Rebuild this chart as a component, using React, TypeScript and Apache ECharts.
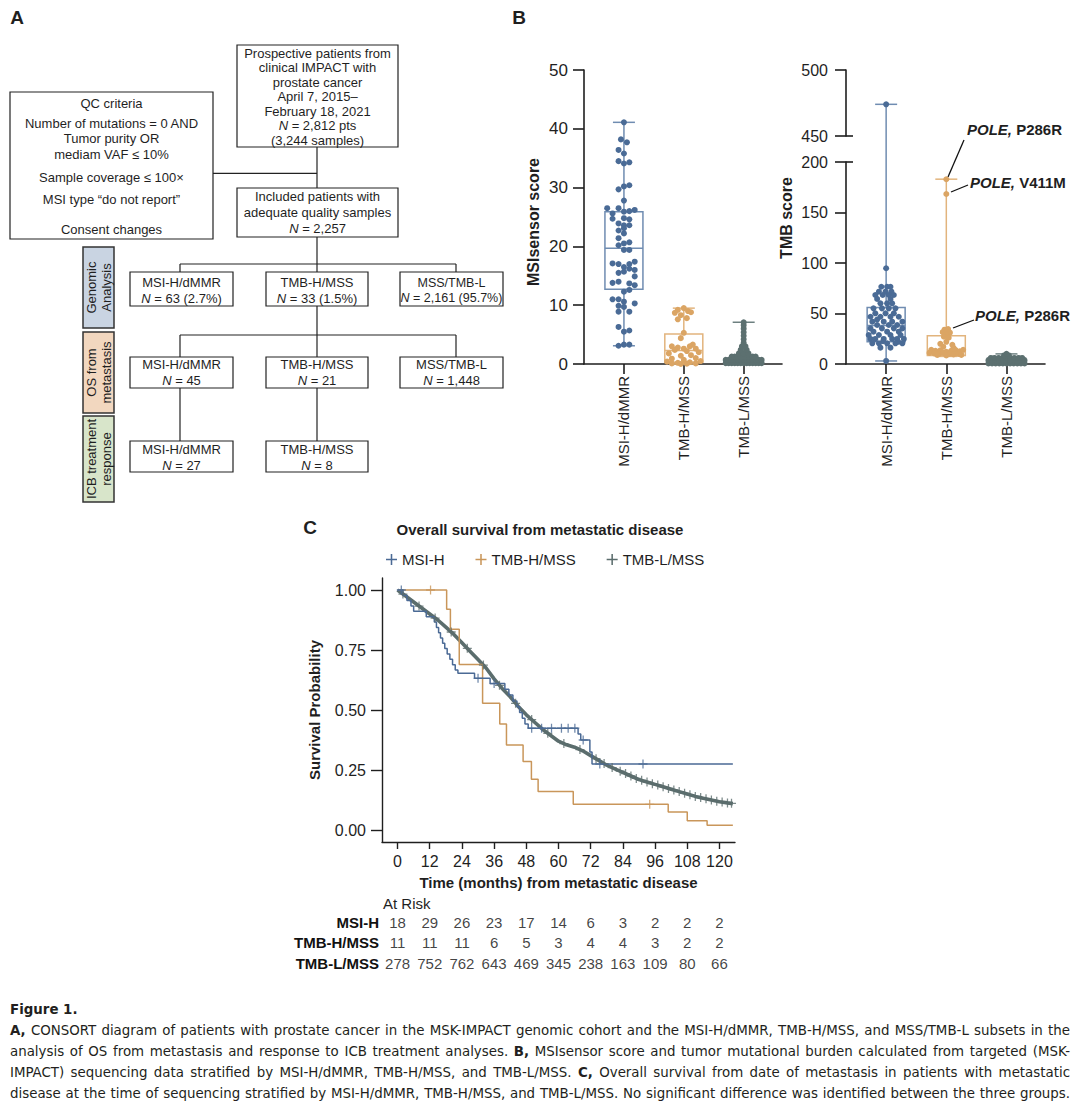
import React, { useEffect, useRef } from 'react';
import * as echarts from 'echarts';

const FONT = "'Liberation Sans', Arial, Helvetica, sans-serif";
const CAP_FONT = "'Liberation Sans Narrow', 'DejaVu Sans Condensed', 'Liberation Sans', sans-serif";
const INK = '#1f1f1f';
const PLUS = 'path://M4.3,0H5.7V4.3H10V5.7H5.7V10H4.3V5.7H0V4.3H4.3Z';

// ---------------- Panel A (CONSORT diagram) ----------------
const flowBoxes = [
  { x: 237, y: 45, w: 161, h: 102, cy: 96.7, lh: 14.5, fs: 13, text: 'Prospective patients from\nclinical IMPACT with\nprostate cancer\nApril 7, 2015–\nFebruary 18, 2021\n{i|N} = 2,812 pts\n(3,244 samples)' },
  { x: 237, y: 188, w: 161, h: 49, cy: 212.4, lh: 16.3, fs: 13, text: 'Included patients with\nadequate quality samples\n{i|N} = 2,257' },
  { x: 130, y: 272, w: 103, h: 34, cy: 290.5, lh: 15.7, fs: 13, text: 'MSI-H/dMMR\n{i|N} = 63 (2.7%)' },
  { x: 266, y: 272, w: 102, h: 34, cy: 290.5, lh: 15.7, fs: 13, text: 'TMB-H/MSS\n{i|N} = 33 (1.5%)' },
  { x: 400, y: 272, w: 103, h: 34, cy: 290.5, lh: 15.7, fs: 12.5, text: 'MSS/TMB-L\n{i|N} = 2,161 (95.7%)' },
  { x: 130, y: 357, w: 103, h: 31, cy: 372.8, lh: 15.7, fs: 13, text: 'MSI-H/dMMR\n{i|N} = 45' },
  { x: 266, y: 357, w: 102, h: 31, cy: 372.8, lh: 15.7, fs: 13, text: 'TMB-H/MSS\n{i|N} = 21' },
  { x: 400, y: 357, w: 103, h: 31, cy: 372.8, lh: 15.7, fs: 13, text: 'MSS/TMB-L\n{i|N} = 1,448' },
  { x: 130, y: 441, w: 103, h: 31, cy: 457.3, lh: 16, fs: 13, text: 'MSI-H/dMMR\n{i|N} = 27' },
  { x: 266, y: 441, w: 102, h: 31, cy: 457.3, lh: 16, fs: 13, text: 'TMB-H/MSS\n{i|N} = 8' },
];
const qcBox = { x: 10, y: 92, w: 203, h: 147 };
const qcLines: [string, number][] = [
  ['QC criteria', 103], ['Number of mutations = 0 AND', 123], ['Tumor purity OR', 138.5],
  ['mediam VAF ≤ 10%', 154], ['Sample coverage ≤ 100×', 177], ['MSI type “do not report”', 199], ['Consent changes', 229],
];
const flowLinks = [
  [317, 147, 317, 188], [213, 173.3, 317, 173.3], [317, 237, 317, 272],
  [180, 264, 456, 264], [180, 264, 180, 272], [456, 264, 456, 272],
  [317, 306, 317, 357], [180, 335, 456, 335], [180, 335, 180, 357], [456, 335, 456, 357],
  [180, 388, 180, 441], [317, 388, 317, 441],
];
const sideBands = [
  { y: 247, h: 81, fill: '#c9d4e2', text: 'Genomic\nAnalysis' },
  { y: 332, h: 81, fill: '#f2d7bf', text: 'OS from\nmetastasis' },
  { y: 416, h: 86, fill: '#d8e5ca', text: 'ICB treatment\nresponse' },
];

// ---------------- Panel B ----------------
const groupNames = ['MSI-H/dMMR', 'TMB-H/MSS', 'TMB-L/MSS'];
const dotColors = ['#4a6b96', '#dba564', '#5c7070'];
const boxColors = ['#6f8cb1', '#e2b47d', '#6d8080'];

// [group, min, Q1, median, Q3, max]
const msiSensorBox = [
  [0, 3.1, 12.7, 19.7, 25.9, 41.1],
  [1, 0.0, 0.3, 2.3, 5.1, 9.5],
  [2, 0.0, 0.1, 0.3, 0.7, 7.1],
];
const tmbBox = [
  [0, 3, 22, 38, 56, 474],
  [1, 7.5, 8.5, 13, 28, 183],
  [2, 0, 1, 3, 6, 10],
];

// points: [jitter offset, value]
const msiSensorMSIH = [
  [0, 41.1], [-0.05, 38.2], [0.05, 37.7], [-0.09, 36.4], [0, 35.8], [-0.09, 34.5], [0, 34.1], [0.09, 34.3],
  [-0.09, 29.7], [0, 30.2], [0.09, 30.4], [0, 27.8],
  [-0.28, 26.5], [-0.09, 26.5], [0.18, 26.2], [0.09, 26.0], [0, 25.9], [-0.19, 25.6],
  [-0.19, 24.7], [0, 24.8], [0.09, 24.6], [-0.09, 23.9], [0, 23.6], [0.09, 23.6], [0, 23.1], [-0.09, 22.7], [0, 22.2],
  [-0.09, 21.4], [0.09, 20.7], [0, 20.5], [-0.09, 20.2], [0, 19.4], [0.09, 19.4],
  [0.18, 17.4], [-0.19, 17.1], [-0.09, 17.0], [0.09, 17.0], [0, 16.5], [0.09, 16.2], [0.18, 16.0], [0, 15.7], [-0.09, 15.5], [0.18, 14.9],
  [-0.09, 14.0], [-0.19, 13.8], [0.09, 13.7], [0.18, 13.4], [0.09, 12.6], [0, 12.3],
  [-0.19, 11.0], [-0.09, 11.0], [0, 10.6], [0.18, 10.3], [-0.09, 9.9], [0, 9.7], [-0.09, 8.9], [0.09, 8.9],
  [-0.09, 6.3], [0, 5.5], [0.09, 5.7], [-0.09, 3.1], [0, 3.3], [0.09, 3.3],
];
const msiSensorTMBH = [
  [0, 9.5], [-0.1, 9.2], [0.07, 9.0], [-0.15, 8.7], [0.12, 8.8], [-0.05, 8.3], [0.05, 7.8], [-0.1, 7.6],
  [0, 5.3], [-0.05, 4.4], [0.15, 3.3], [-0.2, 3.0], [0.1, 3.0], [-0.1, 2.8], [0.2, 2.6], [0, 2.6],
  [-0.15, 2.4], [0.05, 2.2], [0.25, 2.0], [-0.25, 1.8], [0.12, 1.5], [-0.05, 1.4], [0.2, 1.0], [-0.2, 0.9],
  [0, 0.7], [0.28, 0.5], [-0.28, 0.4], [0.1, 0.3], [-0.1, 0.2], [0.2, 0.1], [-0.2, 0.1], [0.05, 0.05], [-0.05, 0.0],
];
const msiSensorTMBL = [
  [-0.3, 0.15], [-0.25, 0.15], [-0.2, 0.15], [-0.15, 0.15], [-0.1, 0.15], [-0.05, 0.15], [0, 0.15], [0.05, 0.15], [0.1, 0.15], [0.15, 0.15], [0.2, 0.15], [0.25, 0.15], [0.3, 0.15],
  [-0.3, 0.7], [-0.25, 0.7], [-0.2, 0.7], [-0.15, 0.7], [-0.1, 0.7], [-0.05, 0.7], [0, 0.7], [0.05, 0.7], [0.1, 0.7], [0.15, 0.7], [0.2, 0.7], [0.25, 0.7], [0.3, 0.7],
  [-0.2, 1.25], [-0.15, 1.25], [-0.1, 1.25], [-0.05, 1.25], [0, 1.25], [0.05, 1.25], [0.1, 1.25], [0.15, 1.25], [0.2, 1.25],
  [-0.08, 1.8], [0, 1.8], [0.08, 1.8], [-0.05, 2.4], [0.05, 2.4], [-0.03, 3.0], [0.03, 3.0],
  [0, 3.6], [0, 4.2], [0, 4.8], [0, 5.4], [0, 6.0], [0, 6.6], [0, 7.1],
];
const tmbMSIH = [
  [0, 474], [0, 94.8],
  [-0.08, 76.5], [0.016, 76.5], [0.072, 76.5],
  [-0.12, 71.6], [-0.01, 71.6], [0.088, 71.6],
  [-0.18, 68.3], [-0.056, 68.3], [0.044, 68.3], [0.128, 68.3],
  [-0.15, 64.4], [0.072, 64.4],
  [-0.095, 60.1], [0.016, 60.1], [0.1, 60.1],
  [-0.21, 55.1], [-0.07, 55.1], [0.044, 55.1], [0.155, 55.1],
  [-0.18, 50.2], [-0.01, 50.2], [0.128, 50.2],
  [-0.26, 46.8], [-0.095, 46.8], [0.072, 46.8], [0.21, 46.8],
  [-0.15, 44], [-0.23, 41.9], [-0.04, 41.9], [0.1, 41.9], [0.27, 41.9],
  [-0.15, 38.6], [0.044, 38.6], [0.183, 38.6],
  [-0.26, 35.3], [-0.07, 35.3], [0.128, 35.3], [0.27, 35.3],
  [-0.21, 32.0], [0.016, 32.0], [0.21, 32.0],
  [-0.29, 28.7], [-0.12, 28.7], [0.072, 28.7], [0.24, 28.7],
  [-0.26, 24.8], [-0.18, 24.8], [-0.04, 24.8], [0.1, 24.8], [0.183, 24.8], [0.294, 24.8],
  [-0.05, 22.5], [0.2, 22],
  [-0.23, 20.5], [-0.12, 20.5], [0.016, 20.5], [0.155, 20.5], [0.27, 20.5],
  [-0.095, 16.2], [0.072, 16.2], [0, 3],
];
const tmbTMBH = [
  [0, 182.9], [0, 168.3], [-0.03, 34], [0.03, 34.5], [-0.06, 31.5], [0, 31.5], [0.06, 31], [0, 29],
  [-0.04, 27], [0.04, 26], [0, 22], [-0.1, 20], [0.1, 19], [-0.05, 17], [0.12, 16],
  [-0.25, 14], [-0.18, 13], [-0.1, 13.5], [0, 12], [0.08, 13], [0.15, 14], [0.22, 12.5], [0.28, 14],
  [-0.28, 11], [-0.2, 10.5], [-0.12, 10], [-0.05, 11], [0.05, 10], [0.12, 9.5], [0.2, 10], [-0.15, 9], [0.25, 9], [0, 8.5],
];
const tmbTMBL = [
  [-0.3, 0.5], [-0.24, 0.5], [-0.18, 0.5], [-0.12, 0.5], [-0.06, 0.5], [0, 0.5], [0.06, 0.5], [0.12, 0.5], [0.18, 0.5], [0.24, 0.5], [0.3, 0.5],
  [-0.3, 3.5], [-0.24, 3.5], [-0.18, 3.5], [-0.12, 3.5], [-0.06, 3.5], [0, 3.5], [0.06, 3.5], [0.12, 3.5], [0.18, 3.5], [0.24, 3.5], [0.3, 3.5],
  [-0.26, 6], [-0.2, 6], [-0.13, 6], [-0.06, 6], [0, 6], [0.06, 6], [0.13, 6], [0.2, 6], [0.26, 6],
  [-0.04, 8.5], [0.04, 8.5], [0, 10],
];
const poleNotes = [
  { text: '{i|POLE,} P286R', x: 967, y: 129, line: [964, 140, 948, 177] },
  { text: '{i|POLE,} V411M', x: 970, y: 182, line: [968, 185, 951, 192] },
  { text: '{i|POLE,} P286R', x: 975, y: 315, line: [974, 320, 953, 328] },
];

// ---------------- Panel C ----------------
const kmNames = ['MSI-H', 'TMB-H/MSS', 'TMB-L/MSS'];
const kmColors = ['#4b6a95', '#c9965a', '#5b6d6d'];
const kmMSI = [[0, 1], [2, 0.978], [3.5, 0.956], [5, 0.933], [6, 0.911], [10.7, 0.889], [13.7, 0.867], [14.5, 0.844], [15.3, 0.822], [16, 0.8], [16.8, 0.778], [17.6, 0.756], [18.5, 0.733], [19.5, 0.711], [20.5, 0.689], [21.5, 0.667], [22.5, 0.653], [28.7, 0.632], [34.5, 0.61], [40, 0.586], [41.5, 0.562], [43, 0.538], [44.5, 0.514], [45.5, 0.49], [46.5, 0.466], [47.5, 0.442], [48.7, 0.424], [67.3, 0.4], [68.3, 0.375], [71.7, 0.325], [72.5, 0.275], [125, 0.275]];
const kmTMBH = [[0, 1], [18.3, 0.92], [19.7, 0.836], [23, 0.69], [31.7, 0.528], [38.1, 0.442], [40.6, 0.354], [46.8, 0.285], [49.9, 0.211], [52.4, 0.16], [65.5, 0.107], [100.9, 0.075], [108, 0.039], [115.4, 0.02], [125, 0.02]];
const kmTMBL = [[0, 1], [3, 0.975], [6, 0.95], [9, 0.925], [12, 0.9], [15, 0.875], [18, 0.845], [21, 0.815], [24, 0.78], [27, 0.745], [30, 0.71], [33, 0.675], [36, 0.63], [39, 0.59], [42, 0.555], [45, 0.515], [48, 0.48], [51, 0.45], [54, 0.42], [57, 0.395], [60, 0.37], [63, 0.355], [66, 0.345], [69, 0.33], [72, 0.31], [75, 0.29], [78, 0.27], [81, 0.255], [84, 0.24], [87, 0.225], [90, 0.21], [93, 0.2], [96, 0.19], [99, 0.18], [102, 0.17], [105, 0.16], [108, 0.15], [111, 0.14], [114, 0.132], [117, 0.125], [120, 0.118], [123, 0.113], [125, 0.11]];
const censorMSI = [[1.4, 1], [30, 0.632], [36, 0.61], [50, 0.424], [53.7, 0.424], [57.4, 0.424], [61.1, 0.424], [63.6, 0.424], [66.1, 0.424], [69.2, 0.375], [75.4, 0.275], [91.5, 0.275]];
const censorTMBH = [[12.3, 1], [94, 0.107]];
const censorTMBL = [[2, 0.983], [8, 0.933], [14, 0.883], [20, 0.825], [26, 0.757], [32, 0.687], [38, 0.603], [44, 0.528], [50, 0.46], [56, 0.403], [62, 0.36], [68, 0.335], [74, 0.297], [77, 0.277], [80, 0.26], [83, 0.245], [85, 0.235], [87, 0.225], [89, 0.215], [91, 0.207], [93, 0.2], [95, 0.193], [97, 0.187], [99, 0.18], [101, 0.173], [103, 0.167], [105, 0.16], [107, 0.153], [109, 0.147], [111, 0.14], [113, 0.135], [115, 0.13], [117, 0.125], [119, 0.12], [121, 0.117], [123, 0.113], [124.5, 0.111]];
const kmTicks = [0, 12, 24, 36, 48, 60, 72, 84, 96, 108, 120];
const kmYTicks = [0, 0.25, 0.5, 0.75, 1];
const riskRows = ['MSI-H', 'TMB-H/MSS', 'TMB-L/MSS'];
const riskMSI = [18, 29, 26, 23, 17, 14, 6, 3, 2, 2, 2];
const riskTMBH = [11, 11, 11, 6, 5, 3, 4, 4, 3, 2, 2];
const riskTMBL = [278, 752, 762, 643, 469, 345, 238, 163, 109, 80, 66];

// ---------------- Caption ----------------
const captionTitle = 'Figure 1.';
const captionLines = [
  'A, CONSORT diagram of patients with prostate cancer in the MSK-IMPACT genomic cohort and the MSI-H/dMMR, TMB-H/MSS, and MSS/TMB-L subsets in the',
  'analysis of OS from metastasis and response to ICB treatment analyses. B, MSIsensor score and tumor mutational burden calculated from targeted (MSK-',
  'IMPACT) sequencing data stratified by MSI-H/dMMR, TMB-H/MSS, and TMB-L/MSS. C, Overall survival from date of metastasis in patients with metastatic',
  'disease at the time of sequencing stratified by MSI-H/dMMR, TMB-H/MSS, and TMB-L/MSS. No significant difference was identified between the three groups.',
];
const captionBold = ['A,', 'B,', 'C,'];

// ---------------- layout constants ----------------
const BX_MIN = -0.667;
const BX_MAX = 2.64;
const G_MSI = { left: 584, top: 70, width: 198, height: 294 };
const G_UP = { left: 846, top: 70, width: 199, height: 66 };
const G_LOW = { left: 846, top: 162, width: 199, height: 202 };
const G_KM = { left: 382, top: 578, width: 353, height: 264 };
const G_RISK = { left: 382, top: 912, width: 353, height: 61.5 };
const BREAK_GAP = G_LOW.top - (G_UP.top + G_UP.height);

function txt(text: string, x: number, y: number, extra: any = {}, rot = 0): any {
  return {
    type: 'text', x, y, rotation: rot, silent: true,
    style: {
      text, fill: INK, fontFamily: FONT, fontSize: 13,
      align: 'center', textAlign: 'center', verticalAlign: 'middle', textVerticalAlign: 'middle',
      ...extra,
    },
  };
}
function ln(x1: number, y1: number, x2: number, y2: number, stroke = '#222', w = 1.2): any {
  return { type: 'line', silent: true, shape: { x1, y1, x2, y2 }, style: { stroke, lineWidth: w } };
}

function renderBox(params: any, api: any) {
  const g = api.value(0);
  const cs = params.coordSys;
  const c = (v: number) => api.coord([g, v]);
  const cx = c(api.value(1))[0];
  const yMin = c(api.value(1))[1];
  const yQ1 = c(api.value(2))[1];
  const yMed = c(api.value(3))[1];
  const yQ3 = c(api.value(4))[1];
  let yMax = c(api.value(5))[1];
  let cap = true;
  if (yMax < cs.y) { yMax = cs.y - BREAK_GAP; cap = false; }
  const color = boxColors[g];
  const ls = { stroke: color, lineWidth: 1.5 };
  const hw = 19, cw = 11;
  const ch: any[] = [
    { type: 'line', shape: { x1: cx, y1: yMin, x2: cx, y2: yQ1 }, style: ls },
    { type: 'line', shape: { x1: cx, y1: yQ3, x2: cx, y2: yMax }, style: ls },
    { type: 'line', shape: { x1: cx - cw, y1: yMin, x2: cx + cw, y2: yMin }, style: ls },
    { type: 'rect', shape: { x: cx - hw, y: yQ3, width: 2 * hw, height: yQ1 - yQ3 }, style: { fill: 'none', stroke: color, lineWidth: 1.5 } },
    { type: 'line', shape: { x1: cx - hw, y1: yMed, x2: cx + hw, y2: yMed }, style: ls },
  ];
  if (cap) ch.push({ type: 'line', shape: { x1: cx - cw, y1: yMax, x2: cx + cw, y2: yMax }, style: ls });
  return { type: 'group', children: ch };
}
function renderUpper(params: any, api: any) {
  const g = api.value(0);
  const cs = params.coordSys;
  const [cx, yTop] = api.coord([g, api.value(5)]);
  const color = boxColors[g];
  const ls = { stroke: color, lineWidth: 1.5 };
  return {
    type: 'group', children: [
      { type: 'line', shape: { x1: cx, y1: yTop, x2: cx, y2: cs.y + cs.height }, style: ls },
      { type: 'line', shape: { x1: cx - 11, y1: yTop, x2: cx + 11, y2: yTop }, style: ls },
    ],
  };
}

function dots(points: number[][], g: number, xi: number, yi: number, size = 6): any {
  return {
    type: 'scatter', xAxisIndex: xi, yAxisIndex: yi, clip: false, z: 4, silent: true,
    symbolSize: size, itemStyle: { color: dotColors[g], opacity: 1 },
    data: points.map(([d, v]) => [g + d, v]),
  };
}

function bAxisX(gi: number, show = true): any {
  return {
    gridIndex: gi, type: 'value', min: BX_MIN, max: BX_MAX, show,
    axisLine: { show: true, onZero: false, lineStyle: { color: INK, width: 1.6 } },
    axisTick: { show: true, customValues: [0, 1, 2], length: 10, lineStyle: { color: INK, width: 1.6 } },
    axisLabel: { customValues: [0, 1, 2], rotate: 90, formatter: (v: number) => groupNames[Math.round(v)], fontSize: 15, color: INK, margin: 12, fontFamily: FONT },
    splitLine: { show: false },
  };
}
function bAxisY(gi: number, min: number, max: number, interval: number, fs: number, margin: number): any {
  return {
    gridIndex: gi, type: 'value', min, max, interval,
    axisLine: { show: true, onZero: false, lineStyle: { color: INK, width: 1.6 } },
    axisTick: { show: true, length: 11, lineStyle: { color: INK, width: 1.6 } },
    axisLabel: { fontSize: fs, color: INK, margin, fontFamily: FONT },
    splitLine: { show: false },
  };
}

function captionGraphics(): any[] {
  const out: any[] = [];
  const ctx = document.createElement('canvas').getContext('2d') as CanvasRenderingContext2D;
  const x0 = 10, W = 1060, ys = [1030, 1051, 1072, 1093];
  const fontOf = (b: boolean, s: number) => `${b ? 'bold ' : ''}${s}px ${CAP_FONT}`;
  const base = 15;
  ctx.font = fontOf(false, base);
  const sp = ctx.measureText(' ').width;
  let maxNat = 0;
  captionLines.forEach((l) => {
    let s = 0;
    l.split(' ').forEach((w) => { ctx.font = fontOf(captionBold.includes(w), base); s += ctx.measureText(w).width; });
    s += sp * (l.split(' ').length - 1);
    maxNat = Math.max(maxNat, s);
  });
  const size = Math.min(base, (base * W * 0.99) / maxNat);
  out.push({ type: 'text', x: x0, y: 1009, silent: true, style: { text: captionTitle, fill: '#231f20', fontFamily: CAP_FONT, fontWeight: 'bold', fontSize: size, align: 'left', textAlign: 'left', verticalAlign: 'middle', textVerticalAlign: 'middle' } });
  captionLines.forEach((l, li) => {
    const words = l.split(' ');
    const ws = words.map((w) => { ctx.font = fontOf(captionBold.includes(w), size); return ctx.measureText(w).width; });
    const tot = ws.reduce((a, b) => a + b, 0);
    const gap = (W - tot) / (words.length - 1);
    let x = x0;
    words.forEach((w, i) => {
      out.push({ type: 'text', x, y: ys[li], silent: true, style: { text: w, fill: '#231f20', fontFamily: CAP_FONT, fontWeight: captionBold.includes(w) ? 'bold' : 'normal', fontSize: size, align: 'left', textAlign: 'left', verticalAlign: 'middle', textVerticalAlign: 'middle' } });
      x += ws[i] + gap;
    });
  });
  return out;
}

function buildOption(): any {
  const graphics: any[] = [];
  // panel letters
  graphics.push(txt('A', 17, 17, { fontSize: 19, fontWeight: 'bold' }));
  graphics.push(txt('B', 519, 17, { fontSize: 19, fontWeight: 'bold' }));
  graphics.push(txt('C', 310, 527, { fontSize: 19, fontWeight: 'bold' }));

  // flowchart
  flowLinks.forEach(([a, b, c, d]) => graphics.push(ln(a, b, c, d)));
  graphics.push({ type: 'rect', silent: true, shape: { x: qcBox.x, y: qcBox.y, width: qcBox.w, height: qcBox.h }, style: { fill: '#fff', stroke: '#222', lineWidth: 1.2 } });
  qcLines.forEach(([t, y]) => graphics.push(txt(t, qcBox.x + qcBox.w / 2, y)));
  flowBoxes.forEach((b) => {
    graphics.push({ type: 'rect', silent: true, shape: { x: b.x, y: b.y, width: b.w, height: b.h }, style: { fill: '#fff', stroke: '#222', lineWidth: 1.2 } });
    graphics.push(txt(b.text, b.x + b.w / 2, b.cy, {
      fontSize: b.fs, lineHeight: b.lh,
      rich: { i: { fontStyle: 'italic', fontSize: b.fs, fontFamily: FONT, lineHeight: b.lh, fill: INK } },
    }));
  });
  sideBands.forEach((s) => {
    graphics.push({ type: 'rect', silent: true, shape: { x: 83, y: s.y, width: 31, height: s.h }, style: { fill: s.fill, stroke: '#333', lineWidth: 1.5 } });
    graphics.push(txt(s.text, 98.5, s.y + s.h / 2, { fontSize: 13, lineHeight: 15 }, Math.PI / 2));
  });

  // panel B extras
  graphics.push(txt('MSIsensor score', 533, 222, { fontSize: 16, fontWeight: 'bold' }, Math.PI / 2));
  graphics.push(txt('TMB score', 786, 218, { fontSize: 16, fontWeight: 'bold' }, Math.PI / 2));
  graphics.push(ln(G_UP.left, G_UP.top + G_UP.height, G_UP.left + 7, G_UP.top + G_UP.height, INK, 1.6));
  graphics.push(ln(G_LOW.left, G_LOW.top, G_LOW.left + 7, G_LOW.top, INK, 1.6));
  poleNotes.forEach((n) => {
    graphics.push(ln(n.line[0], n.line[1], n.line[2], n.line[3], '#111', 1.3));
    graphics.push(txt(n.text, n.x, n.y, {
      fontSize: 15, fontWeight: 'bold', align: 'left', textAlign: 'left',
      rich: { i: { fontStyle: 'italic', fontWeight: 'bold', fontSize: 15, fontFamily: FONT, fill: INK } },
    }));
  });

  // panel C extras
  graphics.push(txt('At Risk', 383, 903, { fontSize: 15, align: 'left', textAlign: 'left' }));

  captionGraphics().forEach((g) => graphics.push(g));

  const series: any[] = [];
  // Panel B - MSIsensor
  series.push({ type: 'custom', xAxisIndex: 0, yAxisIndex: 0, renderItem: renderBox, data: msiSensorBox, z: 2, silent: true });
  series.push(dots(msiSensorMSIH, 0, 0, 0, 6));
  series.push(dots(msiSensorTMBH, 1, 0, 0, 6));
  series.push(dots(msiSensorTMBL, 2, 0, 0, 6));
  // Panel B - TMB (broken axis)
  series.push({ type: 'custom', xAxisIndex: 2, yAxisIndex: 2, renderItem: renderBox, data: tmbBox, z: 2, silent: true });
  series.push({ type: 'custom', xAxisIndex: 1, yAxisIndex: 1, renderItem: renderUpper, data: tmbBox.filter((b) => b[5] >= 450), z: 2, silent: true });
  const lowPts = (p: number[][]) => p.filter(([, v]) => v < 450);
  const upPts = (p: number[][]) => p.filter(([, v]) => v >= 450);
  series.push(dots(upPts(tmbMSIH), 0, 1, 1, 6));
  series.push(dots(lowPts(tmbMSIH), 0, 2, 2, 6));
  series.push(dots(tmbTMBH, 1, 2, 2, 6));
  series.push(dots(tmbTMBL, 2, 2, 2, 6));

  // Panel C - KM
  const kmData = [kmMSI, kmTMBH, kmTMBL];
  const censors = [censorMSI, censorTMBH, censorTMBL];
  [2, 1, 0].forEach((i) => {
    series.push({
      type: 'line', name: kmNames[i], xAxisIndex: 3, yAxisIndex: 3, data: kmData[i],
      step: i === 2 ? false : 'end', symbol: 'none', showSymbol: false, silent: true,
      color: kmColors[i], lineStyle: { color: kmColors[i], width: i === 2 ? 3.6 : 1.5 }, z: 3 + (2 - i),
    });
    series.push({
      type: 'scatter', name: kmNames[i] + ' censored', xAxisIndex: 3, yAxisIndex: 3, data: censors[i],
      symbol: PLUS, symbolSize: 9, itemStyle: { color: kmColors[i] }, z: 6, silent: true, clip: false,
    });
  });
  // at risk table
  const riskAll = [riskMSI, riskTMBH, riskTMBL];
  const riskData: any[] = [];
  riskAll.forEach((arr, r) => arr.forEach((n, k) => riskData.push([kmTicks[k], r, n])));
  series.push({
    type: 'scatter', xAxisIndex: 4, yAxisIndex: 4, data: riskData, symbolSize: 1, silent: true,
    itemStyle: { color: 'rgba(0,0,0,0)' },
    label: { show: true, position: 'inside', formatter: (p: any) => String(p.value[2]), fontSize: 15, color: '#111', fontFamily: FONT },
  });

  return {
    animation: false,
    backgroundColor: '#ffffff',
    textStyle: { fontFamily: FONT },
    title: { text: 'Overall survival from metastatic disease', left: 'center', top: 517, textStyle: { fontSize: 15, fontWeight: 'bold', color: INK, fontFamily: FONT } },
    legend: {
      data: kmNames.map((n) => ({ name: n, icon: PLUS })),
      left: 381, top: 547, itemWidth: 11, itemHeight: 11, itemGap: 31, selectedMode: false,
      textStyle: { fontSize: 15, color: INK, fontFamily: FONT },
    },
    grid: [G_MSI, G_UP, G_LOW, G_KM, G_RISK].map((g) => ({ ...g, containLabel: false })),
    xAxis: [
      bAxisX(0),
      { gridIndex: 1, type: 'value', min: BX_MIN, max: BX_MAX, show: false },
      bAxisX(2),
      {
        gridIndex: 3, type: 'value', min: -5.8, max: 125.8,
        name: 'Time (months) from metastatic disease', nameLocation: 'middle', nameGap: 33,
        nameTextStyle: { fontSize: 15, fontWeight: 'bold', color: INK, fontFamily: FONT },
        axisLine: { show: true, onZero: false, lineStyle: { color: INK, width: 1.4 } },
        axisTick: { show: true, customValues: kmTicks, length: 7, lineStyle: { color: INK, width: 1.4 } },
        axisLabel: { customValues: kmTicks, fontSize: 16, color: INK, margin: 11, fontFamily: FONT },
        splitLine: { show: false },
      },
      { gridIndex: 4, type: 'value', min: -5.8, max: 125.8, show: false },
    ],
    yAxis: [
      bAxisY(0, 0, 50, 10, 17, 16),
      bAxisY(1, 450, 500, 50, 16, 18),
      bAxisY(2, 0, 200, 50, 16, 18),
      {
        gridIndex: 3, type: 'value', min: -0.05, max: 1.05,
        name: 'Survival Probability', nameLocation: 'middle', nameGap: 60, nameRotate: 90,
        nameTextStyle: { fontSize: 15, fontWeight: 'bold', color: INK, fontFamily: FONT },
        axisLine: { show: true, onZero: false, lineStyle: { color: INK, width: 1.4 } },
        axisTick: { show: true, customValues: kmYTicks, length: 11, lineStyle: { color: INK, width: 1.4 } },
        axisLabel: { customValues: kmYTicks, formatter: (v: number) => v.toFixed(2), fontSize: 16, color: INK, margin: 16, fontFamily: FONT },
        splitLine: { show: false },
      },
      {
        gridIndex: 4, type: 'category', data: riskRows, inverse: true,
        axisLine: { show: false }, axisTick: { show: false },
        axisLabel: { fontSize: 15, fontWeight: 'bold', color: '#111', margin: 3, fontFamily: FONT },
      },
    ],
    series,
    graphic: { elements: graphics },
  };
}

export default function App() {
  const ref = useRef<HTMLDivElement>(null);
  useEffect(() => {
    const chart = echarts.init(ref.current as HTMLDivElement, undefined, { renderer: 'svg' });
    chart.setOption(buildOption());
    return () => chart.dispose();
  }, []);
  return <div ref={ref} style={{ position: 'absolute', left: 0, top: 0, width: 1080, height: 1104, background: '#fff' }} />;
}
